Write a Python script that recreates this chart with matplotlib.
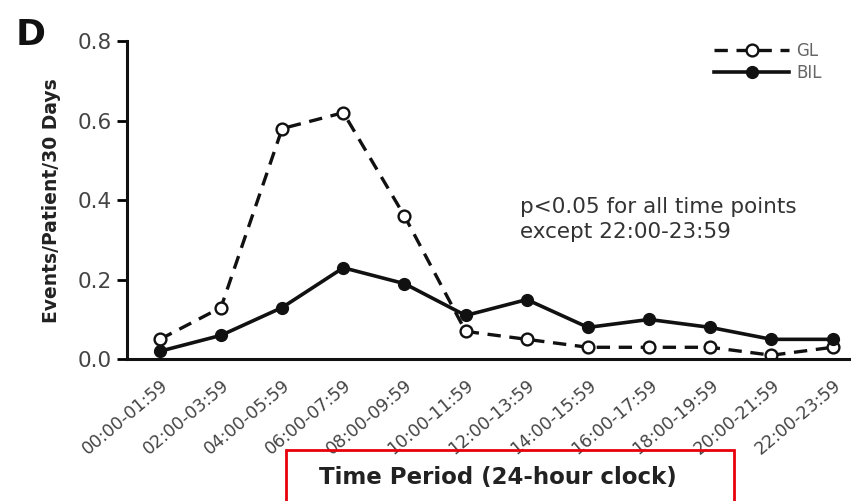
import matplotlib
matplotlib.use("Agg")
import matplotlib.pyplot as plt
from matplotlib.patches import Rectangle

plt.rcParams["font.family"] = "DejaVu Sans"

# Datos
periodos = ["00:00-01:59", "02:00-03:59", "04:00-05:59", "06:00-07:59",
            "08:00-09:59", "10:00-11:59", "12:00-13:59", "14:00-15:59",
            "16:00-17:59", "18:00-19:59", "20:00-21:59", "22:00-23:59"]
gl = [0.05, 0.13, 0.58, 0.62, 0.36, 0.07, 0.05, 0.03, 0.03, 0.03, 0.01, 0.03]
bil = [0.02, 0.06, 0.13, 0.23, 0.19, 0.11, 0.15, 0.08, 0.10, 0.08, 0.05, 0.05]
yticks = [0.0, 0.2, 0.4, 0.6, 0.8]

fig = plt.figure(figsize=(8.51, 5.01), dpi=100)
ax = fig.add_axes([0.149, 0.283, 0.851, 0.635])

x = list(range(len(periodos)))
ax.plot(x, gl, linestyle=(0, (4, 2.6)), color='#111111', linewidth=2.4,
        marker='o', markersize=8.5, markerfacecolor='white',
        markeredgecolor='#111111', markeredgewidth=1.7, label='GL')
ax.plot(x, bil, linestyle='-', color='#111111', linewidth=2.6,
        marker='o', markersize=8.5, markerfacecolor='#111111',
        markeredgecolor='#111111', label='BIL')

# configurar ejes
ax.set_xlim(-0.54, 11.3)
ax.set_ylim(0, 0.8)
ax.set_yticks(yticks)
ax.set_yticklabels([f"{v:.1f}" for v in yticks], fontsize=15.5, color='#444444')
ax.set_xticks(x)
ax.set_xticklabels(periodos, rotation=40, ha='right', rotation_mode='anchor',
                   fontsize=12.5, color='#444444')
ax.tick_params(axis='x', length=0, pad=12)
ax.tick_params(axis='y', length=7, width=2, direction='out', pad=4)
for s in ['top', 'right']:
    ax.spines[s].set_visible(False)
for s in ['left', 'bottom']:
    ax.spines[s].set_linewidth(2.2)
    ax.spines[s].set_color('#111111')

ax.set_ylabel('Events/Patient/30 Days', fontsize=13.5, fontweight='bold',
              color='#222222')
ax.yaxis.set_label_coords(-0.091, 0.5)

ax.text(0.543, 0.51, "p<0.05 for all time points\nexcept 22:00-23:59",
        transform=ax.transAxes, fontsize=15.5, color='#333333',
        linespacing=1.3, va='top')

ax.legend(loc='upper right', bbox_to_anchor=(0.98, 1.045), frameon=False,
          fontsize=12, handlelength=4.5, labelspacing=0.25, handletextpad=0.4,
          borderpad=0.4, labelcolor='#666666')

fig.text(0.018, 0.965, 'D', fontsize=26, fontweight='bold', va='top',
         color='#111111')

fig.text(0.585, 0.046, 'Time Period (24-hour clock)', fontsize=16.5,
         fontweight='bold', color='#222222', ha='center', va='center')
fig.patches.append(Rectangle((286 / 851, -0.02), 448 / 851, 0.121,
                             transform=fig.transFigure, fill=False,
                             edgecolor='#e8000b', linewidth=2.0))

plt.savefig('out.png', dpi=100)
